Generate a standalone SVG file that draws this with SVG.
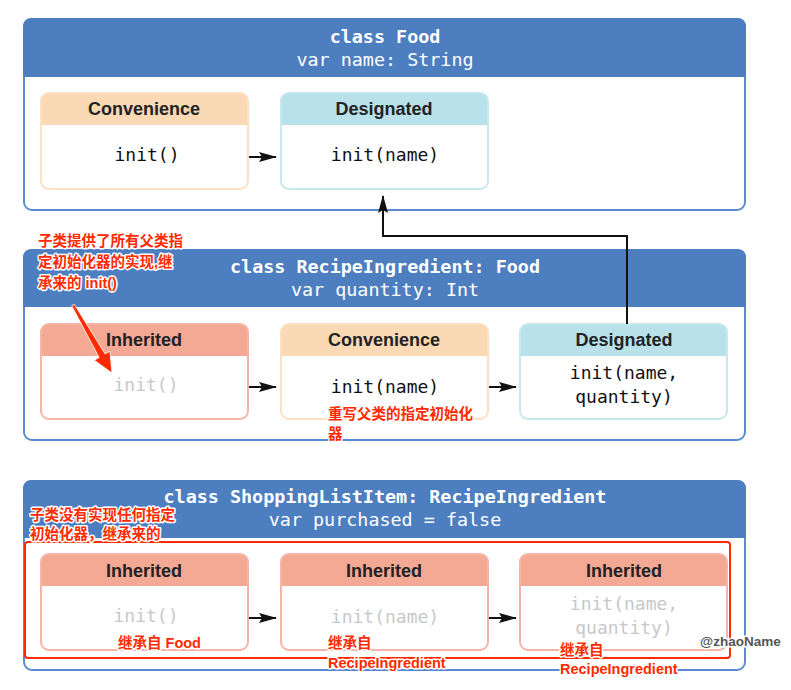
<svg xmlns="http://www.w3.org/2000/svg" width="791" height="690" viewBox="0 0 791 690">
<style>
.cls{fill:#fff;stroke:#5a8bd0;stroke-width:2}
.hdr{fill:#4d7ebf}
.ct{font-family:"DejaVu Sans Mono",monospace;font-size:18.4px;fill:#fff;text-anchor:middle}
.ctb{font-weight:bold}
.cv{fill:#fbd9b5}.cvb{fill:none;stroke:#fbe0c4;stroke-width:2}
.dg{fill:#b9e1ea}.dgb{fill:none;stroke:#c8e8ef;stroke-width:2}
.ih{fill:#f4a995}.ihb{fill:none;stroke:#f4b5a6;stroke-width:2}
.lbl{font-family:"Liberation Sans",Arial,sans-serif;font-weight:bold;font-size:18px;fill:#222;text-anchor:middle}
.code{font-family:"DejaVu Sans Mono",monospace;font-size:18px;fill:#111;text-anchor:middle}
.gray{fill:#c8c8c8}
.ann{font-family:"Liberation Sans","Noto Sans CJK SC",sans-serif;font-weight:bold;font-size:14.5px;fill:#ff2a00;stroke:#fff;stroke-width:3;paint-order:stroke;stroke-linejoin:round}
.conn{fill:none;stroke:#111;stroke-width:2}
</style>
<defs>
<marker id="ah" viewBox="0 0 18 10" refX="17" refY="5" markerWidth="18" markerHeight="10" orient="auto" markerUnits="userSpaceOnUse">
<path d="M0,0 L18,5 L0,10 L3,5 Z" fill="#111"/>
</marker>
</defs>

<g id="food">
<rect class="cls" x="24" y="19" width="721" height="191" rx="8"/>
<path class="hdr" d="M23,77 V27 Q23,18 32,18 H737 Q746,18 746,27 V77 Z"/>
<text class="ct ctb" x="385" y="43">class Food</text>
<text class="ct" x="385" y="66">var name: String</text>
</g>
<g id="food-convenience">
<path class="cv" d="M41,125 V101 Q41,93 49,93 H240 Q248,93 248,101 V125 Z"/>
<rect class="cvb" x="41" y="93" width="207" height="96" rx="8"/>
<text class="lbl" x="144" y="115">Convenience</text>
<text class="code" x="147" y="161">init()</text>
</g>
<g id="food-designated">
<path class="dg" d="M281,125 V101 Q281,93 289,93 H480 Q488,93 488,101 V125 Z"/>
<rect class="dgb" x="281" y="93" width="207" height="96" rx="8"/>
<text class="lbl" x="384" y="115">Designated</text>
<text class="code" x="385" y="161">init(name)</text>
</g>

<g id="recipe">
<rect class="cls" x="24" y="250" width="721" height="190" rx="8"/>
<path class="hdr" d="M23,307 V258 Q23,249 32,249 H737 Q746,249 746,258 V307 Z"/>
<text class="ct ctb" x="385" y="273">class RecipeIngredient: Food</text>
<text class="ct" x="385" y="296">var quantity: Int</text>
</g>
<g id="recipe-inherited">
<path class="ih" d="M41,356 V332 Q41,324 49,324 H240 Q248,324 248,332 V356 Z"/>
<rect class="ihb" x="41" y="324" width="207" height="95" rx="8"/>
<text class="lbl" x="144" y="346">Inherited</text>
<text class="code gray" x="146" y="391">init()</text>
</g>
<g id="recipe-convenience">
<path class="cv" d="M281,356 V332 Q281,324 289,324 H480 Q488,324 488,332 V356 Z"/>
<rect class="cvb" x="281" y="324" width="207" height="95" rx="8"/>
<text class="lbl" x="384" y="346">Convenience</text>
<text class="code" x="385" y="393">init(name)</text>
</g>
<g id="recipe-designated">
<path class="dg" d="M520,356 V332 Q520,324 528,324 H719 Q727,324 727,332 V356 Z"/>
<rect class="dgb" x="520" y="324" width="207" height="95" rx="8"/>
<text class="lbl" x="624" y="346">Designated</text>
<text class="code" x="624" y="379">init(name,</text>
<text class="code" x="624" y="403">quantity)</text>
</g>

<g id="shopping">
<rect class="cls" x="24" y="481" width="721" height="189" rx="8"/>
<path class="hdr" d="M23,538 V489 Q23,480 32,480 H737 Q746,480 746,489 V538 Z"/>
<text class="ct ctb" x="385" y="503">class ShoppingListItem: RecipeIngredient</text>
<text class="ct" x="385" y="526">var purchased = false</text>
</g>
<g id="shop-inherited-1">
<path class="ih" d="M41,586 V562 Q41,554 49,554 H240 Q248,554 248,562 V586 Z"/>
<rect class="ihb" x="41" y="554" width="207" height="96" rx="8"/>
<text class="lbl" x="144" y="577">Inherited</text>
<text class="code gray" x="146" y="622">init()</text>
</g>
<g id="shop-inherited-2">
<path class="ih" d="M281,586 V562 Q281,554 289,554 H480 Q488,554 488,562 V586 Z"/>
<rect class="ihb" x="281" y="554" width="207" height="96" rx="8"/>
<text class="lbl" x="384" y="577">Inherited</text>
<text class="code gray" x="385" y="623">init(name)</text>
</g>
<g id="shop-inherited-3">
<path class="ih" d="M520,586 V562 Q520,554 528,554 H719 Q727,554 727,562 V586 Z"/>
<rect class="ihb" x="520" y="554" width="207" height="96" rx="8"/>
<text class="lbl" x="624" y="577">Inherited</text>
<text class="code gray" x="624" y="610">init(name,</text>
<text class="code gray" x="624" y="634">quantity)</text>
</g>

<g id="connectors">
<line class="conn" x1="249" y1="157" x2="276" y2="157" marker-end="url(#ah)"/>
<line class="conn" x1="249" y1="387" x2="276" y2="387" marker-end="url(#ah)"/>
<line class="conn" x1="489" y1="387" x2="516" y2="387" marker-end="url(#ah)"/>
<line class="conn" x1="249" y1="618" x2="276" y2="618" marker-end="url(#ah)"/>
<line class="conn" x1="489" y1="618" x2="516" y2="618" marker-end="url(#ah)"/>
<polyline class="conn" points="627,324 627,236 383,236 383,196" marker-end="url(#ah)"/>
</g>

<g id="annotations">
<rect x="25" y="542" width="705" height="116" rx="3" fill="none" stroke="#ff2a00" stroke-width="2"/>
<polygon points="71.7,305.7 74.3,304.3 105.1,354 109.9,351.2 112,373 94.3,360.2 99.1,357.4" fill="#ff2a00" stroke="#fff" stroke-width="0.8"/>
<text class="ann" x="38" y="246">子类提供了所有父类指</text>
<text class="ann" x="38" y="267">定初始化器的实现,继</text>
<text class="ann" x="38" y="288">承来的 init()</text>
<text class="ann" x="328" y="419">重写父类的指定初始化</text>
<text class="ann" x="328" y="439">器</text>
<text class="ann" x="30" y="520">子类没有实现任何指定</text>
<text class="ann" x="30" y="539">初始化器，继承来的</text>
<text class="ann" x="118" y="648">继承自 Food</text>
<text class="ann" x="328" y="648">继承自</text>
<text class="ann" x="328" y="668">RecipeIngredient</text>
<text class="ann" x="560" y="655">继承自</text>
<text class="ann" x="560" y="674">RecipeIngredient</text>
<text x="700" y="646" font-family="Liberation Sans,sans-serif" font-weight="bold" font-size="13.5" fill="#555" stroke="#fff" stroke-width="3" paint-order="stroke">@zhaoName</text>
</g>
</svg>
